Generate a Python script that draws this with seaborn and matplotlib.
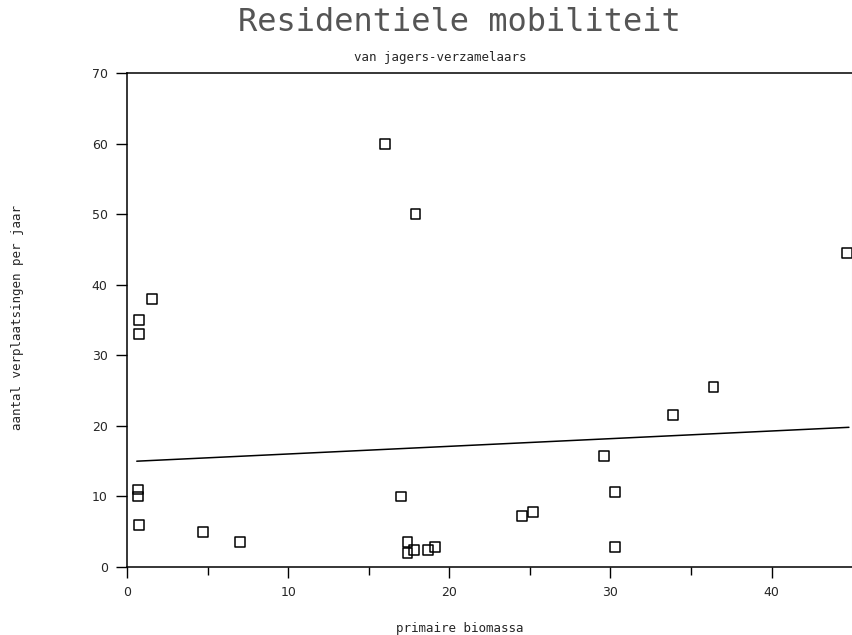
import matplotlib
matplotlib.use("Agg")
import matplotlib.pyplot as plt
import seaborn as sns

# values
biomassa = [0.75, 0.75, 1.55, 0.7, 0.7, 0.75, 4.7, 7.0, 16.0, 17.9, 17.0, 17.4,
            17.4, 17.8, 18.7, 19.1, 24.5, 25.2, 29.6, 30.3, 30.3, 33.9, 36.4, 44.7]
verplaatsingen = [35, 33, 38, 11, 10, 6, 5, 3.5, 60, 50, 10, 3.5,
                  2.0, 2.4, 2.4, 2.8, 7.2, 7.8, 15.7, 10.6, 2.8, 21.5, 25.5, 44.5]

# trend line end points as drawn
trend_x = [0.6, 44.8]
trend_y = [15.0, 19.8]

x_ticks = [0, 10, 20, 30, 40]
y_ticks = [0, 10, 20, 30, 40, 50, 60, 70]

sns.set_style("white")
plt.rcParams['font.family'] = ['DejaVu Sans']

fig = plt.figure(figsize=(8.53, 6.35), dpi=100)
ax = fig.add_axes([0.149, 0.107, 0.85, 0.778])

sns.lineplot(x=trend_x, y=trend_y, ax=ax, color="black", linewidth=1.1)
sns.scatterplot(x=biomassa, y=verplaatsingen, ax=ax, marker="s", s=50,
                facecolor="none", edgecolor="black", linewidth=1.1)

ax.set_xlim(0, 45)
ax.set_ylim(0, 70)
ax.set_xticks(x_ticks)
ax.set_xticks([5, 15, 25, 35], minor=True)
ax.set_yticks(y_ticks)
ax.tick_params(axis="both", which="major", direction="out", length=8, width=1,
               color="black", labelsize=9, pad=6)
ax.tick_params(axis="x", which="minor", direction="out", length=6, width=1,
               color="black", bottom=True)
ax.tick_params(bottom=True, left=True)

for side in ["left", "bottom", "top"]:
    ax.spines[side].set_color("black")
    ax.spines[side].set_linewidth(1.1)
ax.spines["right"].set_color("#cccccc")
ax.spines["right"].set_linewidth(0.8)

fig.text(0.539, 0.965, "Residentiele mobiliteit", ha="center", va="center",
         fontsize=23, family="DejaVu Sans Mono", color="#555555")
fig.text(0.516, 0.91, "van jagers-verzamelaars", ha="center", va="center",
         fontsize=9, family="DejaVu Sans Mono")
fig.text(0.539, 0.011, "primaire biomassa", ha="center", va="center",
         fontsize=9, family="DejaVu Sans Mono")
fig.text(0.021, 0.5, "aantal verplaatsingen per jaar", ha="center", va="center",
         rotation=90, fontsize=9, family="DejaVu Sans Mono")

plt.savefig("out.png", dpi=100)
